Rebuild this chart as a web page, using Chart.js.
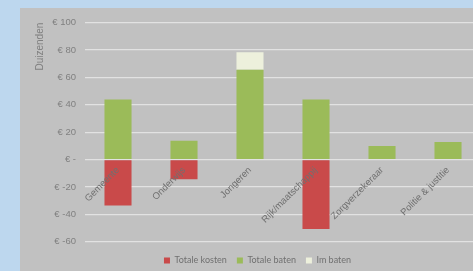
<!DOCTYPE html>
<html>
<head>
<meta charset="utf-8">
<script src="https://cdn.jsdelivr.net/npm/chart.js@4"></script>
<style>
  html, body { margin: 0; padding: 0; overflow: hidden; background: #bdd7ee; }
  #wrap { position: absolute; left: 20px; top: 8px; width: 461px; height: 263px; background: #c1c1c1; }
</style>
</head>
<body>
<div id="wrap"><canvas id="myChart" width="461" height="263"></canvas></div>
<script>
const ctx = document.getElementById('myChart');

const labels = ["Gemeente", "Onderwijs", "Jongeren", "Rijk/maatschappij", "Zorgverzekeraar", "Politie & justitie"];
const kosten = [-33.5, -14.3, 0, -50.7, 0, 0];   // Totale kosten
const baten = [44, 13.8, 65.7, 43.9, 10, 12.9];   // Totale baten
const imBaten = [0, 0, 12.8, 0, 0, 0];            // Im baten
const yTicks = [-60, -40, -20, 0, 20, 40, 60, 80, 100];

const data = {
  labels: labels,
  datasets: [
    { label: 'Totale kosten', data: kosten, backgroundColor: '#c94a4a' },
    { label: 'Totale baten', data: baten, backgroundColor: '#9bbb59' },
    { label: 'Im baten', data: imBaten, backgroundColor: '#edf0dc' }
  ]
};

const config = {
  type: 'bar',
  data: data,
  options: {
    responsive: false,
    animation: false,
    barPercentage: 0.41,
    categoryPercentage: 1,
    layout: { padding: { left: 14, top: -1, right: 0, bottom: -4 } },
    scales: {
      x: {
        stacked: true,
        position: { y: 0 },
        grid: { display: false, drawTicks: false },
        border: { display: false },
        ticks: {
          z: 1,
          color: '#707070',
          font: { family: 'Liberation Sans', size: 9.5 },
          minRotation: 45,
          maxRotation: 45,
          padding: 5
        }
      },
      y: {
        stacked: true,
        min: -60,
        max: 100,
        afterBuildTicks: (axis) => { axis.ticks = yTicks.map(v => ({ value: v })); },
        afterFit: (axis) => { axis.width = 51; },
        grid: { color: '#e2e2e2', lineWidth: 1.2, drawTicks: false },
        border: { display: false },
        ticks: {
          color: '#808080',
          font: { family: 'Liberation Sans', size: 9.5 },
          padding: 9,
          callback: (v) => v === 0 ? '€ -' : '€ ' + v
        },
        title: {
          display: true,
          text: 'Duizenden',
          align: 'end',
          color: '#808080',
          font: { family: 'Liberation Sans', size: 10 },
          padding: { top: 0, bottom: 4 }
        }
      }
    },
    plugins: {
      legend: {
        position: 'bottom',
        title: { display: true, text: '', font: { size: 1 }, padding: { top: 0, bottom: 3 } },
        labels: {
          boxWidth: 6,
          boxHeight: 6,
          padding: 10,
          color: '#707070',
          font: { family: 'Lato', size: 9 }
        }
      },
      tooltip: { enabled: false }
    }
  }
};

const myChart = new Chart(ctx, config);
</script>
</body>
</html>
